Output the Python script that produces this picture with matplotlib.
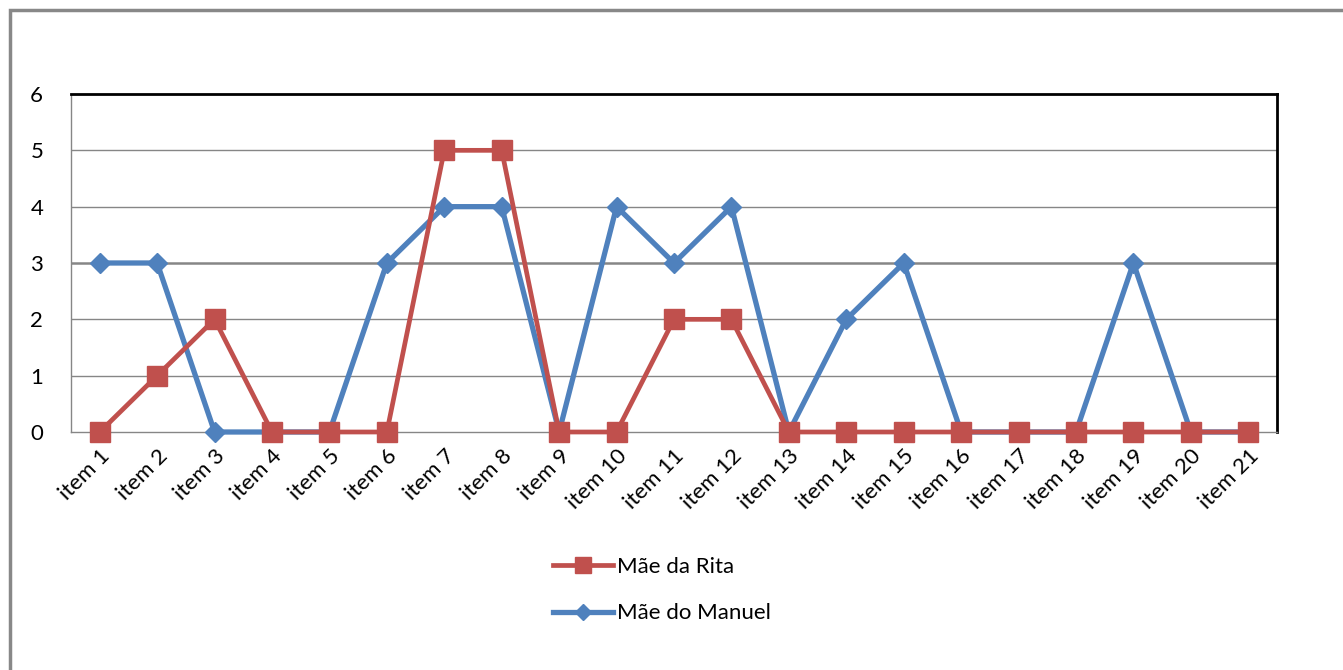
import matplotlib
matplotlib.use("Agg")
import matplotlib.pyplot as plt
from matplotlib.lines import Line2D
from matplotlib.patches import Rectangle

plt.rcParams['font.family'] = ['Lato', 'DejaVu Sans']

categories = [f"item {i}" for i in range(1, 22)]
mae_rita = [0, 1, 2, 0, 0, 0, 5, 5, 0, 0, 2, 2, 0, 0, 0, 0, 0, 0, 0, 0, 0]
mae_manuel = [3, 3, 0, 0, 0, 3, 4, 4, 0, 4, 3, 4, 0, 2, 3, 0, 0, 0, 3, 0, 0]
y_ticks = [0, 1, 2, 3, 4, 5, 6]

red = '#C0504D'
blue = '#4F81BD'

fig = plt.figure(figsize=(13.43, 6.70), dpi=100)
ax = fig.add_axes([71 / 1343, 1 - 432 / 670, 1206 / 1343, 338 / 670])

x = list(range(1, len(categories) + 1))
l_manuel, = ax.plot(x, mae_manuel, color=blue, lw=3.8, marker='D', ms=10.5,
                    mfc=blue, mec=blue, zorder=3, clip_on=False)
l_rita, = ax.plot(x, mae_rita, color=red, lw=3.4, marker='s', ms=14,
                  mfc=red, mec=red, zorder=4, clip_on=False)

ax.set_xlim(0.5, len(categories) + 0.5)
ax.set_ylim(0, 6)
ax.set_yticks(y_ticks)
ax.set_xticks(x)
ax.set_xticklabels(categories, rotation=45, ha='right', rotation_mode='anchor')
ax.tick_params(axis='both', length=0, labelsize=16, colors='black')
ax.tick_params(axis='y', pad=20)
ax.tick_params(axis='x', pad=10)

for v in y_ticks[1:-1]:
    ax.axhline(v, color='#868686', lw=1.8 if v == 3 else 1.0, zorder=1)

ax.spines['top'].set_color('black')
ax.spines['top'].set_linewidth(2.0)
ax.spines['right'].set_color('black')
ax.spines['right'].set_linewidth(2.0)
ax.spines['left'].set_color('#868686')
ax.spines['left'].set_linewidth(1.0)
ax.spines['bottom'].set_color('#868686')
ax.spines['bottom'].set_linewidth(1.0)

handles = [Line2D([], [], color=red, lw=3.4, marker='s', ms=12),
           Line2D([], [], color=blue, lw=3.8, marker='D', ms=8)]
fig.legend(handles, ['Mãe da Rita', 'Mãe do Manuel'],
           loc='center', bbox_to_anchor=(662 / 1343, 1 - 590 / 670),
           frameon=False, fontsize=16, handlelength=2.7, labelspacing=1.2,
           handletextpad=0.2)

# outer chart frame
fig.patches.append(Rectangle((9.5 / 1343, -0.1), 1.5, 1 - 10.5 / 670 + 0.1,
                             transform=fig.transFigure, fill=False,
                             ec='#888888', lw=2.5))

fig.savefig('out.png', dpi=100, facecolor='white')
